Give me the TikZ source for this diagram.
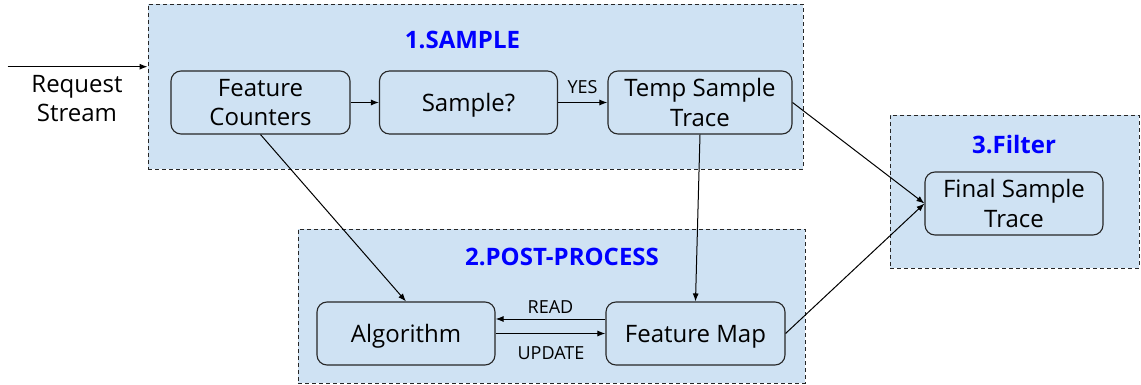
\documentclass[tikz,border=0pt]{standalone}
\usepackage{fontspec}
\setmainfont{Open Sans}
\usetikzlibrary{arrows.meta}
\definecolor{lb}{HTML}{CFE2F3}
\definecolor{ttl}{HTML}{0000FF}
\begin{document}
\begin{tikzpicture}[x=1pt,y=-1pt,
  group/.style={draw=black!85, fill=lb, line width=0.9pt, dash pattern=on 4pt off 3pt, inner sep=0pt},
  proc/.style={draw=black!85, fill=lb, rounded corners=10pt, line width=1.1pt, minimum width=179pt, minimum height=63pt, align=center, font=\fontsize{24}{29.5}\selectfont, inner sep=0pt},
  oneline/.style={text depth=0pt},
  title/.style={text=ttl, font=\fontsize{24}{29}\selectfont\bfseries, anchor=base, inner sep=0pt},
  lab/.style={font=\fontsize{18}{22}\selectfont, anchor=base, inner sep=0pt},
  arr/.style={-{Latex[length=8pt,width=6pt]}, line width=1pt}]
\useasboundingbox (0,0) rectangle (1141,385);
% groups
\node[group, minimum width=655pt, minimum height=165pt] (g1) at (475.5,86.5) {};
\node[group, minimum width=507pt, minimum height=154pt] (g2) at (551.5,306) {};
\node[group, minimum width=249pt, minimum height=153pt] (g3) at (1014.5,191.5) {};
% titles
\node[title] (t1) at (462.5,48.3) {1.SAMPLE};
\node[title] (t2) at (562,265.7) {2.POST-PROCESS};
\node[title] (t3) at (1014,154) {3.Filter};
% process nodes
\node[proc] (fc) at (260.5,102.5) {Feature\\Counters};
\node[proc, oneline, minimum width=178pt] (smp) at (468.5,102.5) {Sample?};
\node[proc, minimum width=184pt] (tmp) at (700,102.5) {Temp Sample\\Trace};
\node[proc, oneline, minimum width=178pt] (alg) at (406,333.5) {Algorithm};
\node[proc, oneline] (fm) at (695.5,333.5) {Feature Map};
\node[proc, minimum width=178pt] (fin) at (1014,203.5) {Final Sample\\Trace};
% request stream
\node[align=center, font=\fontsize{24}{29}\selectfont, inner sep=0pt] (rs) at (77,99) {Request\\Stream};
\coordinate (rsin) at (7.5,66.7);
\draw[arr] (rsin) -- (g1.west |- rsin);
% connectors
\draw[arr] (fc.east) -- (smp.west);
\draw[arr] (smp.east) -- (tmp.west);
\node[lab] (yes) at (582.5,94) {YES};
\draw[arr] (fc.south) -- (alg.north);
\draw[arr] (tmp.south) -- (fm.north);
\draw[arr] (tmp.east) -- (fin.west);
\draw[arr] (fm.east) -- (fin.west);
\draw[arr] ([yshift=14.5pt]fm.west) -- ([yshift=14.5pt]alg.east);
\draw[arr] (alg.east) -- (fm.west);
\node[lab] (read) at (550.5,313) {READ};
\node[lab] (upd) at (551,359) {UPDATE};
\end{tikzpicture}
\end{document}
